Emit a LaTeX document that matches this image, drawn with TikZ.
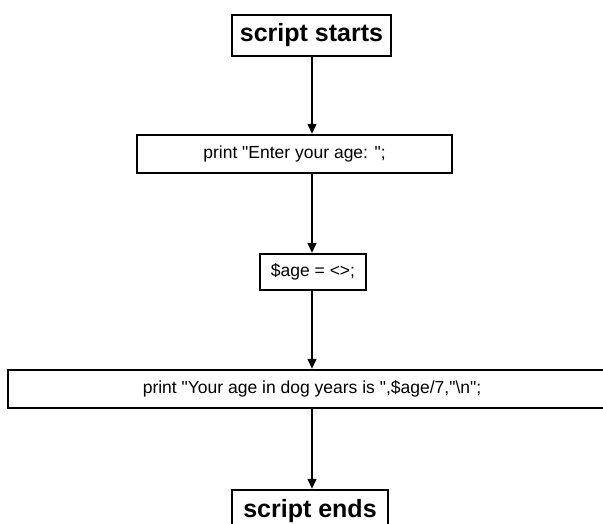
\documentclass[tikz,border=0pt]{standalone}
\usepackage{fontspec}
\setmainfont{Liberation Sans}
\usetikzlibrary{arrows.meta}
\newcommand{\qq}{\textquotedbl}
\tikzset{
  stepbox/.style={draw=black, line width=2.4pt, fill=white, inner sep=0pt, font=\fontsize{17.5}{20}\selectfont},
  termbox/.style={stepbox, font=\fontsize{25}{28}\selectfont\bfseries},
  flow/.style={line width=1.4pt, -{Triangle[length=10pt,width=9pt]}}
}
\begin{document}
\begin{tikzpicture}[x=1pt,y=-1pt]
\useasboundingbox (0,0) rectangle (603,524);
\clip (0,0) rectangle (603,524);
\node[termbox, minimum width=159pt, minimum height=41pt] (start) at (311.5,35.5) {script starts};
\node[stepbox, minimum width=315pt, minimum height=38pt] (p1) at (294.5,154) {print \qq Enter your age: \qq;};
\node[stepbox, minimum width=106pt, minimum height=36pt] (a1) at (313,272) {\$age = <>;};
\node[stepbox, minimum width=608pt, minimum height=38pt] (p2) at (312,389) {print \qq Your age in dog years is \qq,\$age/7,\qq\textbackslash n\qq;};
\node[termbox, minimum width=156pt, minimum height=42pt] (end) at (310,511) {script ends};
\draw[flow] (start.south -| 312,0) -- (p1.north -| 312,0);
\draw[flow] (p1.south -| 312,0) -- (a1.north -| 312,0);
\draw[flow] (a1.south -| 312,0) -- (p2.north -| 312,0);
\draw[flow] (p2.south -| 312,0) -- (end.north -| 312,0);
\end{tikzpicture}
\end{document}
